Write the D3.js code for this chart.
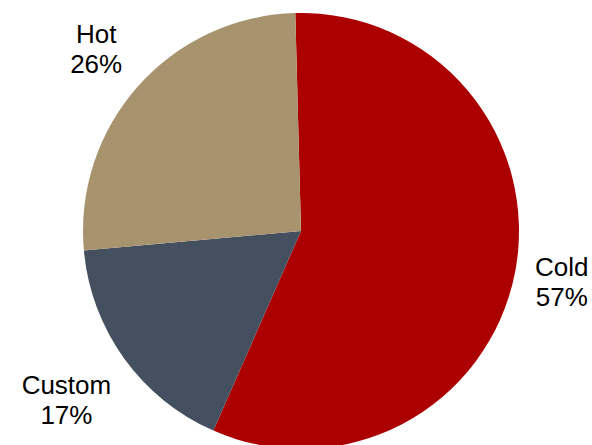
<!DOCTYPE html>
<html>
<head>
<meta charset="utf-8">
<script src="https://cdn.jsdelivr.net/npm/d3@7"></script>
<style>
  html, body { margin: 0; padding: 0; background: #fff; }
  svg { display: block; }
</style>
</head>
<body>
<svg id="chart" width="592" height="445"></svg>
<script>
// Share of requests by type
const categories = ["Cold", "Custom", "Hot"];
const values = [57, 17, 26];
const colors = ["#AC0000", "#44505F", "#A8936F"];

const width = 592, height = 445;
const cx = 301, cy = 231, radius = 218;
const startAngle = -1.5 * Math.PI / 180;
const labelGap = 17;      // gap between pie edge and nearest label corner
const lineHeight = 30;

const svg = d3.select("#chart");
const g = svg.append("g").attr("transform", `translate(${cx},${cy})`);

const total = d3.sum(values);
const data = categories.map((c, i) => ({ name: c, value: values[i], color: colors[i] }));

const pie = d3.pie()
  .value(d => d.value)
  .sort(null)
  .startAngle(startAngle)
  .endAngle(startAngle + 2 * Math.PI);

const arc = d3.arc().innerRadius(0).outerRadius(radius);
const arcs = pie(data);

g.selectAll("path.slice")
  .data(arcs)
  .join("path")
  .attr("class", "slice")
  .attr("d", arc)
  .attr("fill", d => d.data.color);

const pct = d3.format(".0%");

// Labels: two-line text boxes pushed outward along each slice's mid-angle
const labels = g.selectAll("text.label")
  .data(arcs)
  .join("text")
  .attr("class", "label")
  .attr("text-anchor", "middle")
  .attr("font-family", "'Liberation Sans', Arial, sans-serif")
  .attr("font-size", 26)
  .attr("fill", "#000");

labels.append("tspan").attr("x", 0).attr("dy", 0).text(d => d.data.name);
labels.append("tspan").attr("x", 0).attr("dy", lineHeight).text(d => pct(d.data.value / total));

labels.each(function(d) {
  const node = this;
  const bb = node.getBBox();
  const hw = bb.width / 2, hh = bb.height / 2;
  const offY = bb.y + hh; // box centre relative to text origin
  const mid = (d.startAngle + d.endAngle) / 2;
  const ux = Math.sin(mid), uy = -Math.cos(mid);
  const target = radius + labelGap;
  // distance from pie centre to nearest point of a box centred at t*u
  const nearest = t => {
    const bx = t * ux, by = t * uy;
    const dx = Math.max(Math.abs(bx) - hw, 0);
    const dy = Math.max(Math.abs(by) - hh, 0);
    return Math.hypot(dx, dy);
  };
  let lo = 0, hi = radius * 3;
  for (let k = 0; k < 60; k++) {
    const m = (lo + hi) / 2;
    if (nearest(m) < target) lo = m; else hi = m;
  }
  const t = (lo + hi) / 2;
  const x = t * ux, y = t * uy - offY;
  d3.select(node).attr("transform", `translate(${x},${y})`);
});
</script>
</body>
</html>
